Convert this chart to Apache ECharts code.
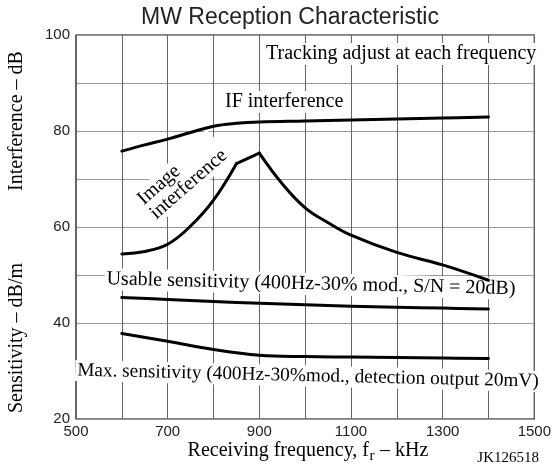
<!DOCTYPE html>
<html>
<head>
<meta charset="utf-8">
<title>MW Reception Characteristic</title>
<script src="https://cdn.jsdelivr.net/npm/echarts@6/dist/echarts.min.js"></script>
<style>
  html, body { margin: 0; padding: 0; background: #fff; }
  #chart { width: 554px; height: 467px; }
</style>
</head>
<body>
<div id="chart"></div>
<script>
// receiving frequency (kHz) / level (dB)
const ifFreq = [600, 650, 700, 750, 800, 850, 900, 1000, 1100, 1200, 1300, 1400]
const ifLevel = [75.8, 77.1, 78.3, 79.7, 81.0, 81.6, 81.9, 82.1, 82.3, 82.5, 82.7, 82.9]
const imageFreq = [600, 650, 700, 750, 800, 850, 900, 950, 1000, 1050, 1100, 1200, 1300, 1400]
const imageLevel = [54.4, 54.9, 56.4, 60.2, 65.6, 73.2, 75.4, 69.0, 64.0, 60.9, 58.3, 54.7, 52.1, 48.9]
const usableFreq = [600, 700, 800, 900, 1000, 1100, 1200, 1300, 1400]
const usableLevel = [45.3, 44.9, 44.5, 44.1, 43.8, 43.5, 43.3, 43.1, 42.9]
const maxFreq = [600, 700, 800, 900, 1000, 1100, 1200, 1300, 1400]
const maxLevel = [37.8, 36.2, 34.5, 33.3, 33.0, 32.9, 32.8, 32.7, 32.6]
const xTickLabels = [500, 700, 900, 1100, 1300, 1500]
const yTickLabels = [20, 40, 60, 80, 100]

const serif = '"Liberation Serif", "Times New Roman", serif'
const sans = '"Liberation Sans", Arial, sans-serif'

const chart = echarts.init(document.getElementById('chart'), null, { renderer: 'canvas' })

// zip two arrays into [x, y] pairs, optionally a slice
function pairs (xs, ys, from, to) {
  const out = []
  for (let i = from || 0; i < (to === undefined ? xs.length : to); i++) out.push([xs[i], ys[i]])
  return out
}

function curve (data, smooth) {
  return {
    type: 'line',
    data: data,
    smooth: smooth,
    symbol: 'none',
    silent: true,
    z: 3,
    lineStyle: { color: '#000', width: 3, cap: 'round', join: 'round' }
  }
}

// plain text on a white box, like the labels in the original figure
function note (text, x, y, opts) {
  const o = opts || {}
  return {
    type: 'text',
    x: x,
    y: y,
    z: 1,
    rotation: o.rotation || 0,
    silent: true,
    style: {
      text: text,
      font: (o.size || 20) + 'px ' + (o.family || serif),
      fill: o.color || '#000',
      align: o.align || 'left',
      verticalAlign: 'middle',
      textAlign: o.align || 'left',
      textVerticalAlign: 'middle',
      lineHeight: o.lineHeight,
      backgroundColor: o.bg === false ? null : '#fff',
      padding: o.bg === false ? 0 : [1, 2]
    }
  }
}

// the "Image interference" peak has a kink at 850 and at 900
const peakA = imageFreq.indexOf(850)
const peakB = imageFreq.indexOf(900)

const option = {
  animation: false,
  backgroundColor: '#fff',
  grid: {
    left: 76,
    right: 15,
    top: 35,
    bottom: 48,
    show: true,
    borderColor: '#000',
    borderWidth: 1.2
  },
  xAxis: {
    type: 'value',
    min: 500,
    max: 1500,
    interval: 100,
    axisLine: { show: false },
    axisTick: { show: false },
    axisLabel: {
      margin: 5,
      fontFamily: sans,
      fontSize: 15,
      color: '#222',
      formatter: v => (xTickLabels.indexOf(v) >= 0 ? String(v) : '')
    },
    splitLine: { lineStyle: { color: '#666', width: 1 } }
  },
  yAxis: {
    type: 'value',
    min: 20,
    max: 100,
    interval: 10,
    axisLine: { show: false },
    axisTick: { show: false },
    axisLabel: {
      margin: 6,
      fontFamily: sans,
      fontSize: 15,
      color: '#222',
      formatter: v => (yTickLabels.indexOf(v) >= 0 ? String(v) : '')
    },
    splitLine: { lineStyle: { color: '#999', width: 1 } }
  },
  series: [
    curve(pairs(ifFreq, ifLevel), 0.4),
    curve(pairs(imageFreq, imageLevel, 0, peakA + 1), 0.4),
    curve(pairs(imageFreq, imageLevel, peakA, peakB + 1), false),
    curve(pairs(imageFreq, imageLevel, peakB), 0.4),
    curve(pairs(usableFreq, usableLevel), 0.4),
    curve(pairs(maxFreq, maxLevel), 0.4)
  ],
  graphic: [
    note('MW Reception Characteristic', 290, 18, { size: 23, family: sans, align: 'center', color: '#222', bg: false }),
    note('Interference – dB', 17, 121, { rotation: Math.PI / 2, align: 'center', bg: false }),
    note('Sensitivity – dB/m', 17, 338, { rotation: Math.PI / 2, align: 'center', bg: false }),
    note('Tracking adjust at each frequency', 264, 54),
    note('IF interference', 223, 102),
    note('Image\ninterference', 145, 210, { rotation: 0.72, lineHeight: 19 }),
    note('Usable sensitivity (400Hz-30% mod., S/N = 20dB)', 311, 284, { align: 'center', rotation: -0.024 }),
    note('Max. sensitivity (400Hz-30%mod., detection output 20mV)', 308, 376, { align: 'center', rotation: -0.024, size: 19.3 }),
    note('Receiving frequency, f', 369, 451, { align: 'right', bg: false }),
    note('r', 369.5, 456, { size: 15, bg: false }),
    note(' – kHz', 375, 451, { bg: false }),
    note('JK126518', 539, 458, { size: 15, align: 'right', bg: false })
  ]
}

chart.setOption(option)
</script>
</body>
</html>
